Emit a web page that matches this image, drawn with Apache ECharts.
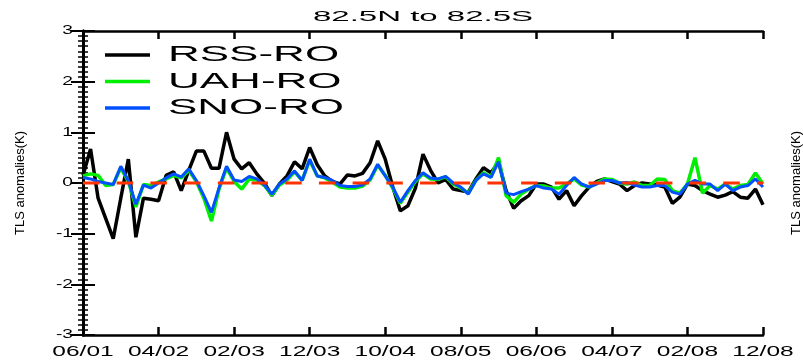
<!DOCTYPE html>
<html>
<head>
<meta charset="utf-8">
<script src="https://cdn.jsdelivr.net/npm/echarts@6/dist/echarts.min.js"></script>
<style>
html,body{margin:0;padding:0;background:#fff;}
#chart{width:803px;height:361px;}
</style>
</head>
<body>
<div id="chart"></div>
<script>
// ---- data (monthly anomalies, Jun 2001 .. Dec 2008) ----
const tickLabels = ['06/01','04/02','02/03','12/03','10/04','08/05','06/06','04/07','02/08','12/08'];
const rss = [0.15,0.67,-0.3,-0.7,-1.1,-0.3,0.47,-1.07,-0.3,-0.32,
  -0.35,0.15,0.22,-0.15,0.25,0.63,0.63,0.29,0.29,1.0,
  0.47,0.28,0.4,0.18,0.0,-0.25,-0.02,0.14,0.42,0.28,
  0.7,0.36,0.14,0.03,-0.02,0.16,0.14,0.19,0.4,0.83,
  0.47,-0.08,-0.55,-0.45,-0.1,0.57,0.25,0.0,0.07,-0.12,
  -0.15,-0.18,0.08,0.3,0.2,0.42,-0.15,-0.5,-0.35,-0.25,
  -0.02,-0.02,-0.08,-0.32,-0.15,-0.45,-0.25,-0.08,0.03,0.08,
  0.03,-0.02,-0.15,-0.05,0.0,-0.02,-0.04,-0.08,-0.4,-0.28,
  -0.02,-0.05,-0.15,-0.22,-0.28,-0.24,-0.17,-0.28,-0.3,-0.12,
  -0.43];
const uah = [0.14,0.18,0.15,-0.05,-0.03,0.3,0.03,-0.47,-0.03,-0.05,
  0.02,0.08,0.15,0.1,0.25,0.03,-0.3,-0.75,-0.12,0.3,
  0.03,-0.12,0.08,0.06,-0.05,-0.24,-0.04,0.06,0.22,0.05,
  0.45,0.14,0.1,0.02,-0.08,-0.1,-0.1,-0.06,0.06,0.35,
  0.15,-0.1,-0.4,-0.18,0.03,0.18,0.08,0.07,0.12,-0.02,
  -0.1,-0.2,0.05,0.2,0.12,0.5,-0.25,-0.38,-0.22,-0.12,
  -0.05,-0.06,-0.1,-0.1,-0.02,0.08,-0.04,-0.08,0.0,0.08,
  0.07,0.0,-0.02,0.02,-0.05,-0.05,0.08,0.07,-0.15,-0.2,
  -0.02,0.5,-0.2,-0.05,-0.12,-0.02,-0.12,-0.05,-0.03,0.2,
  -0.02];
const sno = [0.11,0.08,0.03,0.0,-0.03,0.33,0.05,-0.42,-0.04,-0.1,
  0.0,0.1,0.18,0.12,0.28,0.05,-0.25,-0.58,-0.1,0.33,
  0.06,0.03,0.13,0.08,-0.04,-0.22,-0.02,0.08,0.24,0.05,
  0.47,0.14,0.11,0.05,-0.05,-0.07,-0.07,-0.04,0.08,0.37,
  0.14,-0.08,-0.38,-0.15,0.05,0.2,0.1,0.08,0.13,0.0,
  -0.08,-0.22,0.05,0.18,0.11,0.42,-0.2,-0.23,-0.17,-0.12,
  -0.05,-0.1,-0.12,-0.22,-0.05,0.11,-0.02,-0.08,-0.02,0.05,
  0.05,0.0,0.01,-0.04,-0.08,-0.08,-0.05,-0.05,-0.18,-0.22,
  -0.02,0.05,-0.02,-0.02,-0.15,-0.02,-0.15,-0.08,-0.05,0.08,
  -0.08];
const zeroRef = 0;
const seriesNames = ['RSS-RO','UAH-RO','SNO-RO'];

// ---- wide (IDL-like) horizontal lettering ----
const STRETCH = {22: 2.0, 15: 2.2, 14: 1.75, 12: 1.6};
['fillText','strokeText'].forEach(function(fn){
  const orig = CanvasRenderingContext2D.prototype[fn];
  CanvasRenderingContext2D.prototype[fn] = function(text, x, y, maxW){
    const m = this.getTransform();
    const mt = /(\d+(?:\.\d+)?)px/.exec(this.font);
    const s = mt ? STRETCH[Math.round(parseFloat(mt[1]))] : undefined;
    if (!s || Math.abs(m.b) > 1e-6 || Math.abs(m.c) > 1e-6) {
      return maxW === undefined ? orig.call(this, text, x, y) : orig.call(this, text, x, y, maxW);
    }
    this.save();
    this.translate(x, y);
    this.scale(s, 1);
    orig.call(this, text, 0, 0);
    this.restore();
  };
});

const FONT = 'Liberation Sans, Arial, Helvetica, sans-serif';
const xMin = 0, xMax = (tickLabels.length - 1) * 10;
const toPairs = arr => arr.map((v, i) => [i, v]);

const chart = echarts.init(document.getElementById('chart'), null, {renderer: 'canvas'});
const yCommon = {
  type: 'value', min: -3, max: 3, interval: 1,
  axisLine: {show: true, lineStyle: {color: '#000', width: 3}},
  axisTick: {show: true, inside: true, length: 12, lineStyle: {color: '#000', width: 2}},
  minorTick: {show: true, splitNumber: 10, length: 5, lineStyle: {color: '#000', width: 1.5}},
  splitLine: {show: false}, minorSplitLine: {show: false}
};
const xCommon = {
  type: 'value', min: xMin, max: xMax, interval: 10,
  axisLine: {show: true, onZero: false, lineStyle: {color: '#000', width: 2.5}},
  axisTick: {show: true, inside: true, length: 8, lineStyle: {color: '#000', width: 2.5}},
  splitLine: {show: false}
};
chart.setOption({
  animation: false,
  backgroundColor: '#fff',
  title: {
    text: '82.5N to 82.5S', left: 423, top: 9, textAlign: 'center', padding: 0,
    textStyle: {fontFamily: FONT, fontSize: 15, fontWeight: 'normal', color: '#000'}
  },
  legend: {
    data: seriesNames, orient: 'vertical', left: 105, top: 43, padding: 0,
    itemGap: 2.5, itemWidth: 45, itemHeight: 3.5, icon: 'rect', selectedMode: false,
    textStyle: {fontFamily: FONT, fontSize: 22, lineHeight: 12, padding: [0, 0, 12, 13], color: '#000'}
  },
  grid: {left: 83, right: 40, top: 31, bottom: 26, containLabel: false},
  xAxis: [
    Object.assign({}, xCommon, {
      position: 'bottom',
      axisLabel: {show: true, interval: 0, margin: 10, fontFamily: FONT, fontSize: 14, color: '#000',
        formatter: v => tickLabels[Math.round(v / 10)] || ''}
    }),
    Object.assign({}, xCommon, {position: 'top', axisLabel: {show: false}})
  ],
  yAxis: [
    Object.assign({}, yCommon, {
      position: 'left',
      name: 'TLS anomalies(K)', nameLocation: 'middle', nameGap: 56, nameRotate: 90,
      nameTextStyle: {fontFamily: FONT, fontSize: 13, color: '#000'},
      axisLabel: {show: true, margin: 10, fontFamily: FONT, fontSize: 12, color: '#000'}
    }),
    Object.assign({}, yCommon, {position: 'right', axisLabel: {show: false}})
  ],
  graphic: [{
    type: 'text', x: 796, y: 183, rotation: Math.PI / 2,
    style: {text: 'TLS anomalies(K)', fontFamily: FONT, fontSize: 13, fill: '#000', align: 'center', verticalAlign: 'middle'}
  }],
  series: [
    {name: seriesNames[0], type: 'line', data: toPairs(rss), showSymbol: false, symbol: 'none', z: 2,
     itemStyle: {color: '#000000'}, lineStyle: {color: '#000000', width: 3.5}},
    {name: seriesNames[1], type: 'line', data: toPairs(uah), showSymbol: false, symbol: 'none', z: 3,
     itemStyle: {color: '#00ee00'}, lineStyle: {color: '#00ee00', width: 3.5}},
    {name: seriesNames[2], type: 'line', data: toPairs(sno), showSymbol: false, symbol: 'none', z: 4,
     itemStyle: {color: '#0050ff'}, lineStyle: {color: '#0050ff', width: 3}},
    {name: 'zero', type: 'line', data: [[xMin, zeroRef], [xMax, zeroRef]], showSymbol: false, symbol: 'none', z: 6,
     silent: true, lineStyle: {color: '#ff3300', width: 2.8, type: [16.5, 17.2]}}
  ]
});
</script>
</body>
</html>
